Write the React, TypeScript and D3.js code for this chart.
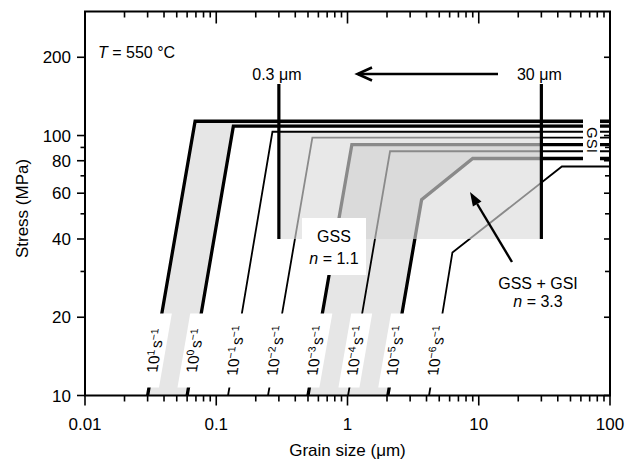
import React from 'react';
import * as d3 from 'd3';

const width = 627;
const height = 460;
const font = '"Liberation Sans", Arial, Helvetica, sans-serif';

// strain rate exponents for the eight curves (10^n s^-1)
const rateExponents = ['1', '0', '−1', '−2', '−3', '−4', '−5', '−6'];

// break points of each curve: grain size (um) and stress (MPa)
const curveGrainSize = [
  [0.03, 0.069, 100],
  [0.06, 0.135, 100],
  [0.123, 0.268, 100],
  [0.248, 0.54, 100],
  [0.5, 1.08, 100],
  [1.01, 2.11, 100],
  [2.03, 3.67, 9.0, 100],
  [4.18, 6.3, 43, 100],
];
const curveStress = [
  [10, 113.5, 113.5],
  [10, 108.6, 108.6],
  [10, 103.4, 103.4],
  [10, 98.2, 98.2],
  [10, 92.3, 92.3],
  [10, 87, 87],
  [10, 56.7, 81.6, 81.6],
  [10, 35.5, 76, 76],
];
const thickCurve = [true, true, false, false, true, false, true, false];
const grayInGss = [false, false, false, true, true, true, true, true];

// shaded bands between pairs of curves
const bandPairs = [[0, 1], [4, 6]];

// GSS field and the two grain size bars
const gssGrainSize = [0.3, 30];
const gssStress = [40, 100.5];
const barStress = [40, 158];

const xMajor = [0.01, 0.1, 1, 10, 100];
const xMajorLabels = ['0.01', '0.1', '1', '10', '100'];
const yMajor = [10, 20, 40, 60, 80, 100, 200];
const yMajorLabels = ['10', '20', '40', '60', '80', '100', '200'];

export default function App() {
  const x = d3.scaleLog().domain([0.01, 100]).range([85, 610]);
  const y = d3.scaleLog().domain([10, 300]).range([395.5, 11.5]);
  const [left, right] = x.range();
  const [bottom, top] = y.range();

  const curves = curveGrainSize.map((gs, i) =>
    gs.map((g, j) => [g, curveStress[i][j]] as [number, number]));
  const line = d3.line<[number, number]>().x(p => x(p[0])).y(p => y(p[1]));
  const band = (a: number, b: number) =>
    line([...curves[a], ...curves[b].slice().reverse()]) + 'Z';

  const gx0 = x(gssGrainSize[0]);
  const gx1 = x(gssGrainSize[1]);
  const gyTop = y(gssStress[1]);
  const gyBot = y(gssStress[0]);
  const fillTop = y(curveStress[2][1]);

  const xMinor = x.ticks().filter(t => !xMajor.some(m => Math.abs(m - t) < 1e-9));
  const yMinor = y.ticks().filter(t => !yMajor.includes(t) && t < 300);

  // label placement along the steep part of each curve
  const labelY = 350.5;
  const labels = curves.map((c, i) => {
    const X0 = x(c[0][0]), Y0 = y(c[0][1]);
    const X1 = x(c[1][0]), Y1 = y(c[1][1]);
    const t = (labelY - Y0) / (Y1 - Y0);
    const cx = X0 + t * (X1 - X0);
    const ang = Math.atan((X1 - X0) / (Y0 - Y1)) * 180 / Math.PI;
    return { cx, ang, exp: rateExponents[i] };
  });

  // arrow toward GSS + GSI field
  const a2from = [512, 262], a2to = [470, 192];
  const dx = a2to[0] - a2from[0], dy = a2to[1] - a2from[1];
  const len = Math.hypot(dx, dy);
  const ux = dx / len, uy = dy / len;
  const hb = [a2to[0] - 14 * ux, a2to[1] - 14 * uy];
  const head = `M${a2to[0]},${a2to[1]}L${hb[0] - 5 * uy},${hb[1] + 5 * ux}L${hb[0] + 5 * uy},${hb[1] - 5 * ux}Z`;

  return (
    <svg width={width} height={height} fontFamily={font}
      style={{ position: 'absolute', left: 0, top: 0, background: '#fff' }}>
      <defs>
        <clipPath id="plot"><rect x={left} y={top} width={right - left} height={bottom - top} /></clipPath>
        <clipPath id="gss"><rect x={gx0} y={gyTop} width={gx1 - gx0} height={gyBot - gyTop} /></clipPath>
        <clipPath id="notGss">
          <path clipRule="evenodd"
            d={`M0,0H${width}V${height}H0Z M${gx0},${gyTop}H${gx1}V${gyBot}H${gx0}Z`} />
        </clipPath>
        <clipPath id="leftOf30"><rect x={left} y={top} width={gx1 - left} height={bottom - top} /></clipPath>
      </defs>

      <g clipPath="url(#plot)">
        <rect x={gx0} y={fillTop} width={gx1 - gx0} height={gyBot - fillTop} fill="#e8e8e8" />
        {bandPairs.map(([a, b], i) => (
          <g key={i} clipPath={i === 1 ? 'url(#leftOf30)' : undefined}>
            <path d={band(a, b)} fill="#e6e6e6" />
            <path d={band(a, b)} fill="#dadada" clipPath="url(#gss)" />
          </g>
        ))}
        {curves.map((c, i) => (
          <g key={i} fill="none" strokeWidth={thickCurve[i] ? 3.3 : 1.8} strokeLinejoin="miter">
            <g clipPath={grayInGss[i] ? 'url(#notGss)' : undefined}>
              <path d={line(c) || ''} stroke="#000" />
            </g>
            {grayInGss[i] && <path d={line(c) || ''} stroke="#8a8a8a" clipPath="url(#gss)" />}
          </g>
        ))}
        {gssGrainSize.map((g, i) => (
          <line key={i} x1={x(g)} x2={x(g)} y1={y(barStress[0])} y2={y(barStress[1])}
            stroke="#000" strokeWidth={3.2} />
        ))}

        {labels.map((l, i) => (
          <g key={i} transform={`translate(${l.cx},${labelY}) skewX(${-l.ang}) rotate(-90)`}>
            <rect x={-37} y={-11} width={74} height={21} fill="#fff" />
            <text x={0} y={5.5} textAnchor="middle" fontSize={15.5}>
              10<tspan dy={-6} fontSize={10.5}>{l.exp}</tspan>
              <tspan dy={6} dx={1.5}>s</tspan>
              <tspan dy={-6} fontSize={10.5}>−1</tspan>
            </text>
          </g>
        ))}

        <rect x={302} y={218} width={64} height={57} fill="#fff" />
        <rect x={583} y={119} width={17} height={42} fill="#fff" />
      </g>

      {/* annotations */}
      <text x={98} y={58} fontSize={16}><tspan fontStyle="italic">T</tspan> = 550 °C</text>
      <text x={x(0.3) - 2} y={80} fontSize={16} textAnchor="middle">0.3 μm</text>
      <text x={x(30) - 2} y={80} fontSize={16} textAnchor="middle">30 μm</text>
      <line x1={498} x2={358} y1={74} y2={74} stroke="#000" strokeWidth={2.6} />
      <path d="M372,67.5L357.5,74L372,80.5" fill="none" stroke="#000" strokeWidth={2.6} />

      <text x={334} y={242} fontSize={16} textAnchor="middle">GSS</text>
      <text x={334} y={264} fontSize={16} textAnchor="middle"><tspan fontStyle="italic">n</tspan> = 1.1</text>

      <line x1={a2from[0]} y1={a2from[1]} x2={hb[0]} y2={hb[1]} stroke="#000" strokeWidth={2.4} />
      <path d={head} fill="#000" />
      <text x={538} y={288.5} fontSize={16} textAnchor="middle">GSS + GSI</text>
      <text x={538} y={307} fontSize={16} textAnchor="middle"><tspan fontStyle="italic">n</tspan> = 3.3</text>

      <text transform="translate(587,140) rotate(90)" fontSize={15} textAnchor="middle">GSI</text>

      {/* frame and axes */}
      <rect x={left} y={top} width={right - left} height={bottom - top} fill="none" stroke="#000" strokeWidth={2} />
      <g stroke="#000" strokeWidth={1.6}>
        {xMajor.map(t => (
          <g key={t}>
            <line x1={x(t)} x2={x(t)} y1={bottom} y2={bottom + 10} />
            <line x1={x(t)} x2={x(t)} y1={top} y2={top + 12} />
          </g>
        ))}
        {xMinor.map(t => (
          <g key={t}>
            <line x1={x(t)} x2={x(t)} y1={bottom} y2={bottom + 6} />
            <line x1={x(t)} x2={x(t)} y1={top} y2={top + 6} />
          </g>
        ))}
        {yMajor.map(t => (
          <g key={t}>
            <line x1={left - 8} x2={left} y1={y(t)} y2={y(t)} />
            <line x1={right - 6} x2={right} y1={y(t)} y2={y(t)} />
          </g>
        ))}
        {yMinor.map(t => (
          <g key={t}>
            <line x1={left - 4.5} x2={left} y1={y(t)} y2={y(t)} />
            <line x1={right - 5} x2={right} y1={y(t)} y2={y(t)} />
          </g>
        ))}
      </g>
      {xMajor.map((t, i) => (
        <text key={t} x={x(t)} y={430} fontSize={17} textAnchor="middle">{xMajorLabels[i]}</text>
      ))}
      {yMajor.map((t, i) => (
        <text key={t} x={71} y={y(t) + 6} fontSize={17} textAnchor="end">{yMajorLabels[i]}</text>
      ))}
      <text x={(left + right) / 2} y={456} fontSize={17} textAnchor="middle">Grain size (μm)</text>
      <text transform={`translate(28,${(top + bottom) / 2 + 5}) rotate(-90)`} fontSize={17} textAnchor="middle">Stress (MPa)</text>
    </svg>
  );
}
